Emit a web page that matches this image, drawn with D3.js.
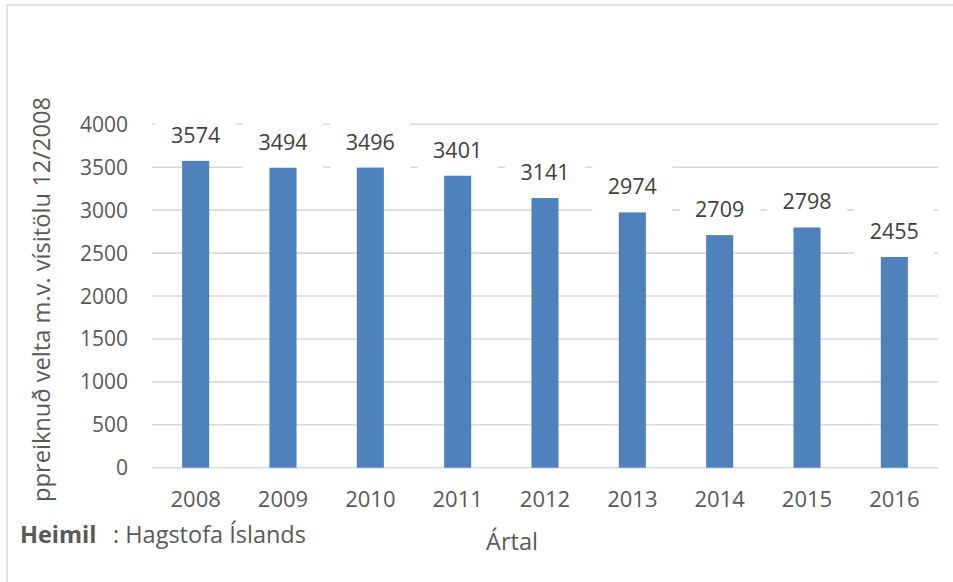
<!DOCTYPE html>
<html>
<head>
<meta charset="utf-8">
<script src="https://cdn.jsdelivr.net/npm/d3@7"></script>
<style>
  body { margin: 0; background: #ffffff; }
</style>
</head>
<body>
<div id="chart"></div>
<script>
// data
const years = ["2008", "2009", "2010", "2011", "2012", "2013", "2014", "2015", "2016"];
const values = [3574, 3494, 3496, 3401, 3141, 2974, 2709, 2798, 2455];
const yTicks = [0, 500, 1000, 1500, 2000, 2500, 3000, 3500, 4000];

const W = 953, H = 582;
const font = "'Open Sans', 'Liberation Sans', sans-serif";

const svg = d3.select("#chart")
    .append("svg")
    .attr("width", W)
    .attr("height", H);

// outer frame of the chart
svg.append("rect")
    .attr("x", 7)
    .attr("y", 5)
    .attr("width", 960)
    .attr("height", 620)
    .style("fill", "#ffffff")
    .style("stroke", "#d9d9d9")
    .style("stroke-width", 1.5);

const x = d3.scaleBand()
    .domain(years)
    .range([152, 938])
    .paddingInner(0.69)
    .paddingOuter(0.345);

const y = d3.scaleLinear()
    .domain([0, 4000])
    .range([467.7, 124.3]);

// gridlines
svg.append("g")
    .selectAll("line")
    .data(yTicks)
    .join("line")
    .attr("x1", 152)
    .attr("x2", 938)
    .attr("y1", d => y(d))
    .attr("y2", d => y(d))
    .style("stroke", "#d9d9d9")
    .style("stroke-width", 1.6);

// y tick labels
svg.append("g")
    .selectAll("text")
    .data(yTicks)
    .join("text")
    .text(d => d)
    .attr("x", 128)
    .attr("y", d => y(d) + 7.5)
    .attr("text-anchor", "end")
    .style("font-family", font)
    .style("font-size", "21px")
    .style("fill", "#595959");

// white boxes behind the data labels (they cut the gridlines)
svg.append("g")
    .selectAll("rect")
    .data(values)
    .join("rect")
    .attr("x", (d, i) => x(years[i]) + x.bandwidth() / 2 - 40)
    .attr("y", d => y(d) - 18 - 30)
    .attr("width", 80)
    .attr("height", 50)
    .style("fill", "#ffffff");

// bars
svg.append("g")
    .selectAll("rect")
    .data(values)
    .join("rect")
    .attr("x", (d, i) => x(years[i]))
    .attr("y", d => y(d))
    .attr("width", x.bandwidth())
    .attr("height", d => y(0) - y(d))
    .style("fill", "#4f81bd");

// data labels
svg.append("g")
    .selectAll("text")
    .data(values)
    .join("text")
    .text(d => d)
    .attr("x", (d, i) => x(years[i]) + x.bandwidth() / 2)
    .attr("y", d => y(d) - 18)
    .attr("text-anchor", "middle")
    .style("font-family", font)
    .style("font-size", "21.5px")
    .style("fill", "#404040");

// x tick labels
svg.append("g")
    .selectAll("text")
    .data(years)
    .join("text")
    .text(d => d)
    .attr("x", d => x(d) + x.bandwidth() / 2)
    .attr("y", 507)
    .attr("text-anchor", "middle")
    .style("font-family", font)
    .style("font-size", "22px")
    .style("fill", "#595959");

// axis titles
svg.append("text")
    .text("ppreiknuð velta m.v. vísitölu 12/2008")
    .attr("transform", "translate(50 502) rotate(-90)")
    .attr("textLength", 405)
    .attr("lengthAdjust", "spacingAndGlyphs")
    .style("font-family", font)
    .style("font-size", "23px")
    .style("fill", "#595959");

svg.append("text")
    .text("Ártal")
    .attr("x", 512)
    .attr("y", 550)
    .attr("text-anchor", "middle")
    .style("font-family", font)
    .style("font-size", "23.5px")
    .style("fill", "#595959");

// source note
const src = svg.append("text")
    .attr("y", 543)
    .style("font-family", font)
    .style("font-size", "23.5px")
    .style("fill", "#595959");
src.append("tspan")
    .attr("x", 20)
    .style("font-weight", "bold")
    .text("Heimil");
src.append("tspan")
    .attr("x", 113)
    .text(": Hagstofa Íslands");
</script>
</body>
</html>
